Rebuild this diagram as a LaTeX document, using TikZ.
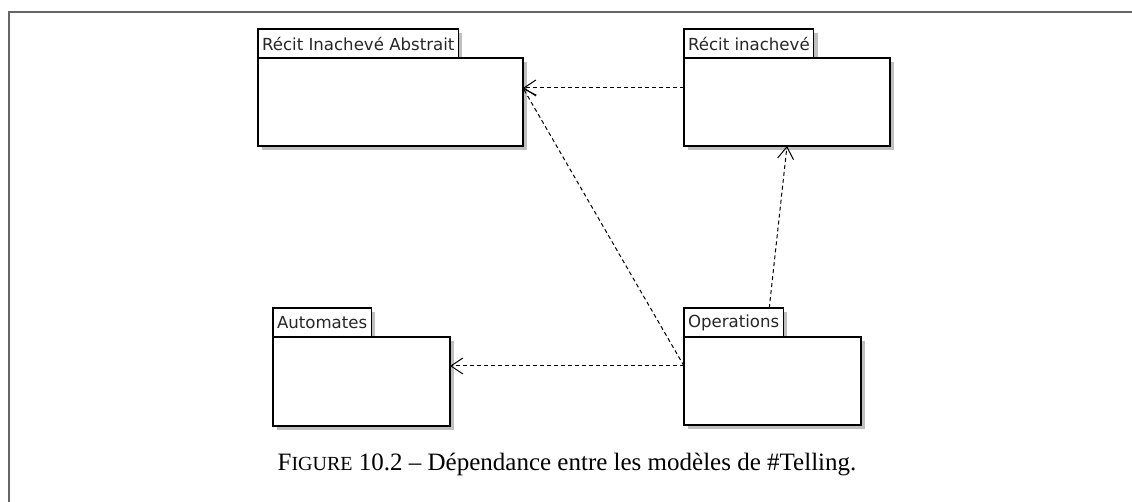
\documentclass[tikz,border=0pt]{standalone}
\usepackage{fontspec}
\setmainfont{Liberation Serif}
\newfontfamily\pkgfont{DejaVu Sans}
\usepackage{tikz}
\usetikzlibrary{arrows.meta,positioning,shadows}

\begin{document}
\begin{tikzpicture}[
x=0.5pt, y=-0.5pt,
pkgtab/.style={rectangle, draw, fill=white, outer sep=0pt, inner xsep=2pt, inner ysep=0pt, minimum height=14.5pt, text=black!85, font=\pkgfont\fontsize{8.3}{10}\selectfont, line width=0.6pt, drop shadow={shadow xshift=2pt, shadow yshift=-2pt, fill=black!25, opacity=1}},
pkgbody/.style={rectangle, draw, fill=white, outer sep=0pt, minimum height=44pt, line width=0.6pt, drop shadow={shadow xshift=2pt, shadow yshift=-2pt, fill=black!25, opacity=1}},
dep/.style={-{Straight Barb[length=6pt, width=8pt]}, dash pattern=on 2pt off 1.5pt, line width=0.5pt}
]
\useasboundingbox (0,0) rectangle (1132,502);
\draw[black!60, line width=1pt] (9,502) -- (9,12) -- (1132,12);

% package corners
\coordinate (abs-c) at (258,58);
\coordinate (rec-c) at (684,58);
\coordinate (aut-c) at (273,337);
\coordinate (ops-c) at (684,337);

\node[pkgtab, above right=0pt and 0pt of abs-c] (abs-tab) {Récit Inachevé Abstrait};
\node[pkgbody, minimum width=132.5pt, below right=0pt and 0pt of abs-c] (abs) {};

\node[pkgtab, above right=0pt and 0pt of rec-c] (rec-tab) {Récit inachevé};
\node[pkgbody, minimum width=103pt, below right=0pt and 0pt of rec-c] (rec) {};

\node[pkgtab, above right=0pt and 0pt of aut-c] (aut-tab) {Automates};
\node[pkgbody, minimum width=88.5pt, minimum height=44.5pt, below right=0pt and 0pt of aut-c] (aut) {};

\node[pkgtab, above right=0pt and 0pt of ops-c] (ops-tab) {Operations};
\node[pkgbody, minimum width=88.5pt, below right=0pt and 0pt of ops-c] (ops) {};

\draw[dep] ([yshift=-15pt]rec.north west) -- ([yshift=-15pt]abs.north east);
\draw[dep] ([yshift=-14.5pt]ops.north west) -- ([yshift=-15pt]abs.north east);
\draw[dep] ([yshift=-14.5pt]ops.north west) -- ([yshift=-14.5pt]aut.north east);
\draw[dep] ([xshift=-7pt]ops-tab.north east) -- (rec.south);

\node[font=\fontsize{12.5}{15}\selectfont] (caption) at (567,465)
{F{\fontsize{10}{12}\selectfont IGURE} 10.2 – Dépendance entre les modèles de \#Telling.};
\end{tikzpicture}
\end{document}
